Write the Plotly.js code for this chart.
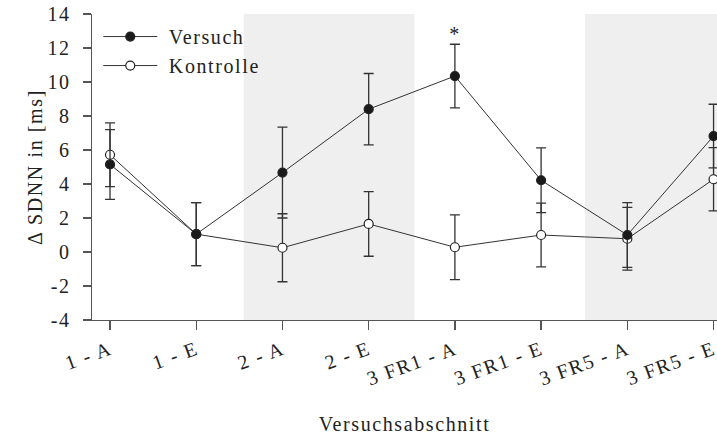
<!DOCTYPE html>
<html>
<head>
<meta charset="utf-8">
<script src="https://cdn.plot.ly/plotly-3.0.1.min.js"></script>
<style>
html,body{margin:0;padding:0;background:#fff;}
#chart{width:717px;height:439px;}
#chart text{letter-spacing:1.6px;}
</style>
</head>
<body>
<div id="chart"></div>
<script>
const categories = ["1 - A", "1 - E", "2 - A", "2 - E", "3 FR1 - A", "3 FR1 - E", "3 FR5 - A", "3 FR5 - E"];
const versuch = [5.15, 1.05, 4.67, 8.4, 10.35, 4.22, 1.0, 6.82];
const versuchErr = [2.05, 1.85, 2.67, 2.1, 1.87, 1.9, 1.9, 1.87];
const kontrolle = [5.72, 1.05, 0.25, 1.65, 0.28, 1.0, 0.78, 4.28];
const kontrolleErr = [1.87, 1.85, 2.0, 1.9, 1.9, 1.88, 1.85, 1.86];
const shadedBands = [[1.55, 3.53], [5.51, 7.3]];
const yTicks = [-4, -2, 0, 2, 4, 6, 8, 10, 12, 14];
const yTickText = ["-4", "-2", "0", "2", "4", "6", "8", "10", "12", "14"];
const starLabel = {category: "3 FR1 - A", value: 12.85, text: "*"};

const FONT = "Liberation Serif, Times New Roman, serif";
const TXT = "#222";
const idx = categories.map((c, i) => i);

function trace(name, y, err, fill) {
  return {
    type: "scatter", mode: "lines+markers", name: "\u00a0" + name + "\u00a0\u00a0\u00a0",
    x: idx, y: y,
    line: {color: "#333", width: 1},
    marker: {symbol: "circle", size: 9, color: fill, line: {color: "#222", width: 1.2}},
    error_y: {type: "data", array: err, visible: true, color: "#333", thickness: 1.3, width: 5},
    cliponaxis: false
  };
}

const data = [
  trace("Kontrolle", kontrolle, kontrolleErr, "#fff"),
  trace("Versuch", versuch, versuchErr, "#1a1a1a")
];

const layout = {
  width: 717, height: 439,
  margin: {l: 92, r: 0, t: 14, b: 119},
  paper_bgcolor: "#fff", plot_bgcolor: "#fff",
  font: {family: FONT, color: TXT, size: 20},
  showlegend: true,
  legend: {
    x: 0.01, y: 0.99, xanchor: "left", yanchor: "top",
    bgcolor: "rgba(0,0,0,0)", traceorder: "reversed",
    font: {family: FONT, size: 20, color: TXT},
    itemwidth: 54, tracegroupgap: 0
  },
  xaxis: {
    type: "linear",
    range: [-0.209, 7.04],
    tickmode: "array", tickvals: idx, ticktext: categories,
    tickangle: -20,
    ticklabeloverflow: "allow",
    showgrid: false, zeroline: false,
    showline: true, linecolor: "#555", linewidth: 1.3,
    ticks: "outside", ticklen: 9, tickwidth: 1.3, tickcolor: "#555",
    tickfont: {family: FONT, size: 20, color: TXT},
    title: {text: "Versuchsabschnitt", font: {family: FONT, size: 20, color: TXT}, standoff: 33}
  },
  yaxis: {
    range: [-4, 14],
    tickmode: "array", tickvals: yTicks, ticktext: yTickText,
    showgrid: false, zeroline: false,
    showline: true, linecolor: "#555", linewidth: 1.3,
    ticks: "outside", ticklen: 8, tickwidth: 1.3, tickcolor: "#555",
    ticklabelstandoff: 8,
    tickfont: {family: FONT, size: 20, color: TXT},
    title: {text: "Δ SDNN in [ms]", font: {family: FONT, size: 20, color: TXT}, standoff: 2}
  },
  shapes: shadedBands.map(b => ({
    type: "rect", xref: "x", yref: "paper", x0: b[0], x1: b[1], y0: 0, y1: 1,
    fillcolor: "#efefef", line: {width: 0}, layer: "below"
  })),
  annotations: [{
    x: categories.indexOf(starLabel.category), y: starLabel.value, xref: "x", yref: "y",
    text: starLabel.text, showarrow: false, font: {family: FONT, size: 20, color: TXT}
  }]
};

Plotly.newPlot("chart", data, layout, {displayModeBar: false, staticPlot: true});
</script>
</body>
</html>
